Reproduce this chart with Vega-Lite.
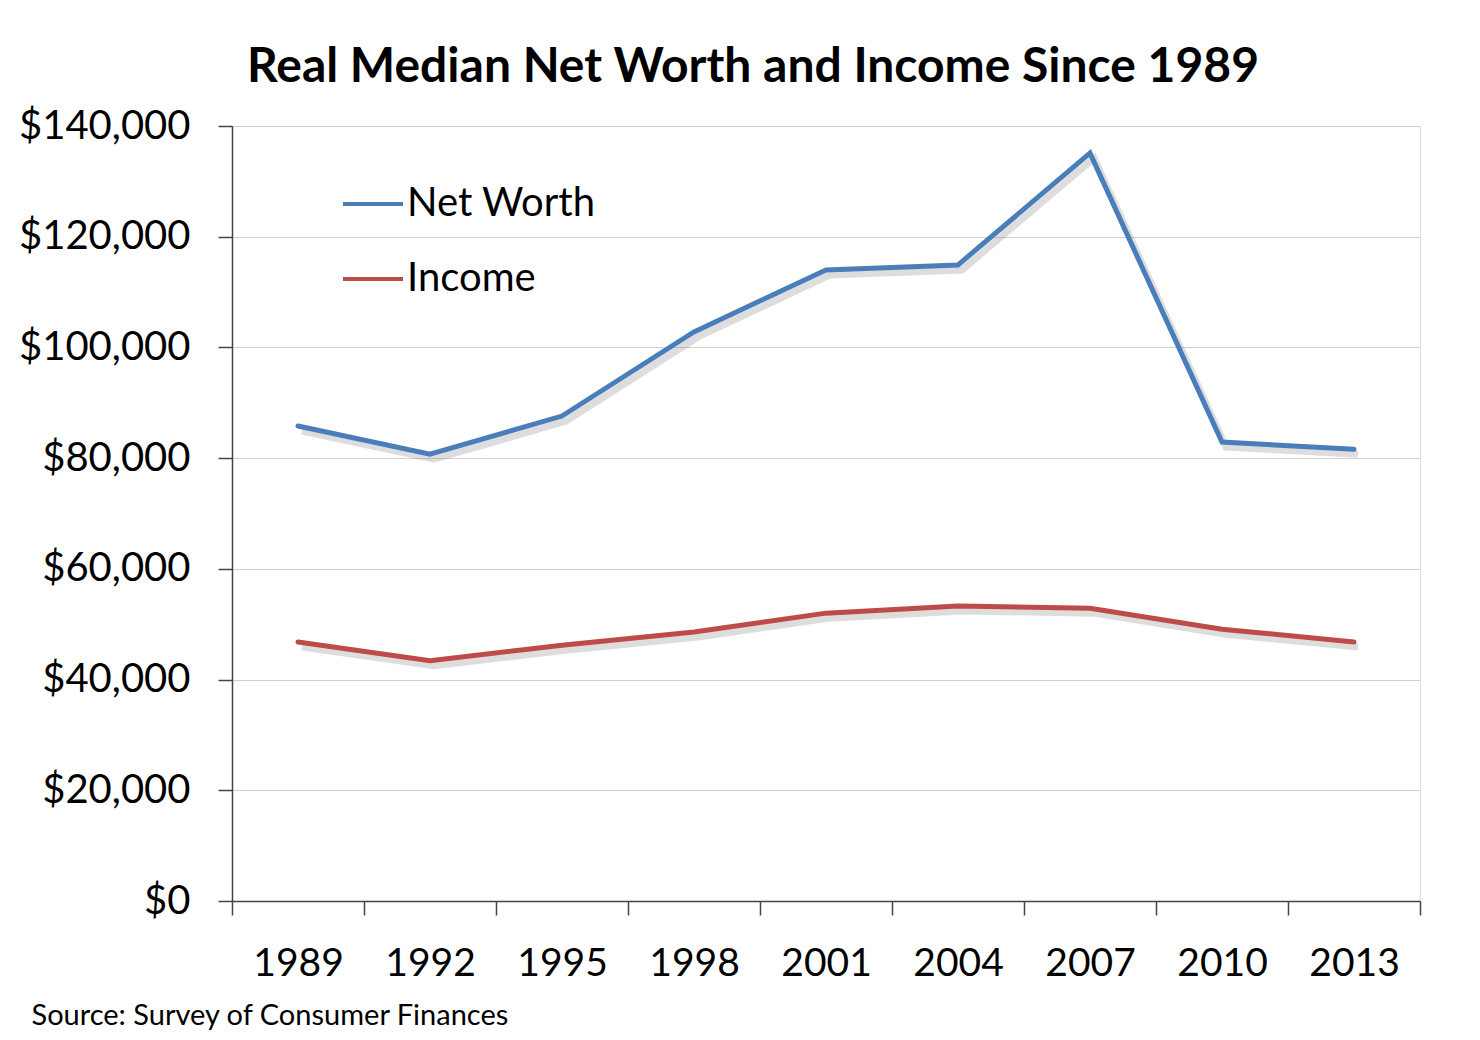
{
  "$schema": "https://vega.github.io/schema/vega-lite/v6.json",
  "autosize": {"type": "none"},
  "width": 1188,
  "height": 775,
  "padding": {"left": 232, "top": 126, "right": 60, "bottom": 139},
  "background": "white",
  "title": {
    "text": "Real Median Net Worth and Income Since 1989",
    "font": "Lato",
    "fontSize": 48,
    "fontWeight": "bold",
    "color": "#000000",
    "anchor": "middle",
    "frame": "group",
    "dx": -73,
    "offset": -24,
    "baseline": "alphabetic"
  },
  "data": {
    "values": [
      {"year": "1989", "series": "Net Worth", "value": 85800},
      {"year": "1992", "series": "Net Worth", "value": 80700},
      {"year": "1995", "series": "Net Worth", "value": 87600},
      {"year": "1998", "series": "Net Worth", "value": 102800},
      {"year": "2001", "series": "Net Worth", "value": 114000},
      {"year": "2004", "series": "Net Worth", "value": 114900},
      {"year": "2007", "series": "Net Worth", "value": 135100},
      {"year": "2010", "series": "Net Worth", "value": 82900},
      {"year": "2013", "series": "Net Worth", "value": 81600},
      {"year": "1989", "series": "Income", "value": 46800},
      {"year": "1992", "series": "Income", "value": 43400},
      {"year": "1995", "series": "Income", "value": 46200},
      {"year": "1998", "series": "Income", "value": 48600},
      {"year": "2001", "series": "Income", "value": 52000},
      {"year": "2004", "series": "Income", "value": 53300},
      {"year": "2007", "series": "Income", "value": 52900},
      {"year": "2010", "series": "Income", "value": 49100},
      {"year": "2013", "series": "Income", "value": 46800}
    ]
  },
  "encoding": {
    "x": {
      "field": "year",
      "type": "ordinal",
      "scale": {"type": "band", "paddingInner": 0, "paddingOuter": 0},
      "axis": {
        "title": "Source: Survey of Consumer Finances",
        "titleFont": "Lato",
        "titleFontSize": 29,
        "titleFontWeight": "normal",
        "titleColor": "#000000",
        "titleAlign": "left",
        "titleAnchor": "start",
        "titleBaseline": "middle",
        "titleX": -201,
        "titleY": 114,
        "titleLimit": 0,
        "labelAngle": 0,
        "labelFont": "Lato",
        "labelFontSize": 39,
        "labelColor": "#000000",
        "labelPadding": 29,
        "tickBand": "extent",
        "tickSize": 14,
        "tickColor": "#444444",
        "domainColor": "#444444",
        "tickWidth": 1.5,
        "domainWidth": 1.5,
        "grid": false
      }
    },
    "y": {
      "field": "value",
      "type": "quantitative",
      "scale": {"domain": [0, 140000], "nice": false},
      "axis": {
        "title": null,
        "values": [0, 20000, 40000, 60000, 80000, 100000, 120000, 140000],
        "format": "$,.0f",
        "labelFont": "Lato",
        "labelFontSize": 40,
        "labelColor": "#000000",
        "labelPadding": 28,
        "tickSize": 14,
        "tickColor": "#444444",
        "domainColor": "#444444",
        "tickWidth": 1.5,
        "domainWidth": 1.5,
        "grid": true,
        "gridColor": "#d0d0d0",
        "gridWidth": 1.2
      }
    }
  },
  "layer": [
    {
      "mark": {"type": "line", "strokeWidth": 7, "color": "#777777", "opacity": 0.25, "xOffset": 4, "yOffset": 5, "strokeJoin": "miter"},
      "encoding": {"detail": {"field": "series"}}
    },
    {
      "mark": {"type": "line", "strokeWidth": 5, "strokeJoin": "miter", "strokeCap": "round"},
      "encoding": {
        "color": {
          "field": "series",
          "type": "nominal",
          "scale": {"domain": ["Net Worth", "Income"], "range": ["#4a7ebb", "#be4b48"]},
          "legend": {
            "title": null,
            "orient": "none",
            "legendX": 109,
            "legendY": 46,
            "symbolType": "stroke",
            "symbolSize": 3600,
            "symbolStrokeWidth": 4,
            "labelFont": "Lato",
            "labelFontSize": 40,
            "labelColor": "#000000",
            "labelOffset": 2,
            "labelLimit": 0,
            "rowPadding": 23
          }
        }
      }
    }
  ]
}
